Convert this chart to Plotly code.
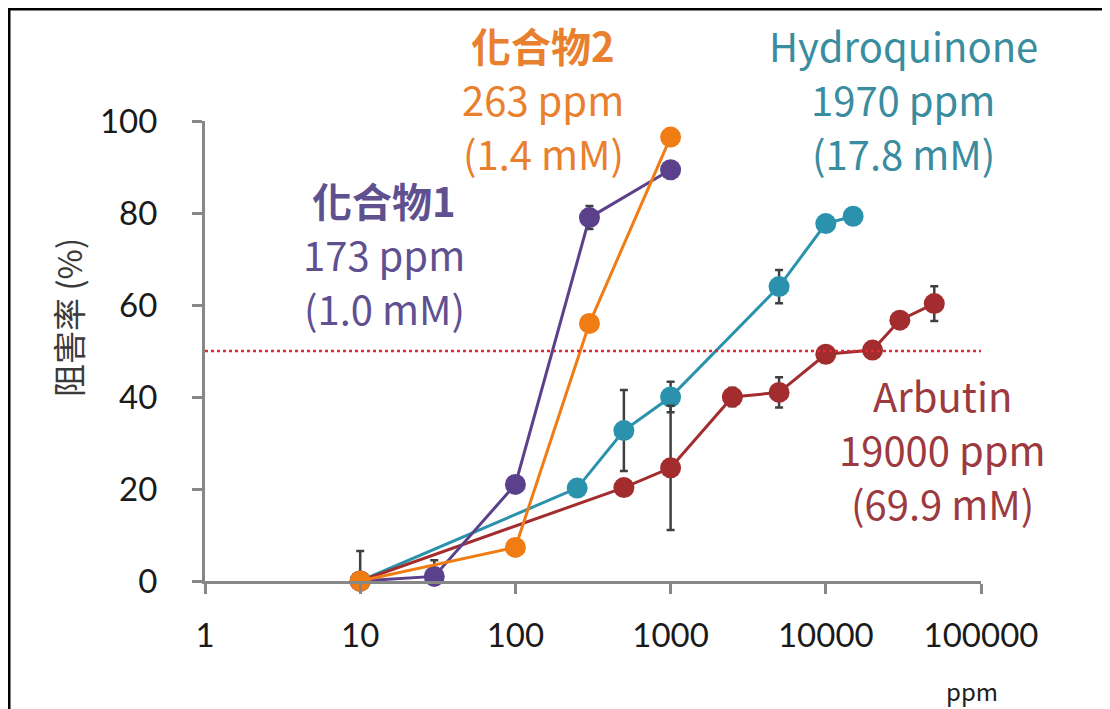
import plotly.graph_objects as go

# ---------------- data ----------------
c1_x = [10, 30, 100, 300, 1000]
c1_y = [0, 1, 21, 79, 89.4]
c1_err = [0, 3.5, 0, 2.5, 1]

c2_x = [10, 100, 300, 1000]
c2_y = [0, 7.3, 56, 96.5]
c2_err = [0, 0, 0, 0]

hq_x = [10, 250, 500, 1000, 5000, 10000, 15000]
hq_y = [0, 20.2, 32.7, 40, 64, 77.7, 79.3]
hq_err = [6.5, 1, 8.8, 3.3, 3.6, 1, 1.5]

ar_x = [10, 500, 1000, 2500, 5000, 10000, 20000, 30000, 50000]
ar_y = [0, 20.3, 24.6, 40, 41, 49.3, 50.2, 56.7, 60.3]
ar_err = [0, 1, 13.5, 2, 3.3, 1, 1, 1, 3.8]

threshold = 50

x_tickvals = [1, 10, 100, 1000, 10000, 100000]
x_ticktext = ["1", "10", "100", "1000", "10000", "100000"]
y_tickvals = [0, 20, 40, 60, 80, 100]

c1_label = ["<b>化合物1</b>", "173 ppm", "(1.0 mM)"]
c2_label = ["<b>化合物2</b>", "263 ppm", "(1.4 mM)"]
hq_label = ["Hydroquinone", "1970 ppm", "(17.8 mM)"]
ar_label = ["Arbutin", "19000 ppm", "(69.9 mM)"]
y_title = "阻害率 (%)"
x_title = "ppm"

# ---------------- layout geometry ----------------
# The page body has an 8px margin, so figure coords = screen coords - 8
OFF = 8
W, H = 1110 - OFF, 709 - OFF
L, R, T, B = 205 - OFF, 981 - OFF, 121 - OFF, 581 - OFF


def px(xs):
    return (xs - OFF - L) / (R - L)


def py(ys):
    return (B - (ys - OFF)) / (B - T)


AXIS = "#878787"
ERR = "#404040"

fig = go.Figure()


def add_series(x, y, err, color):
    fig.add_trace(go.Scatter(
        x=x, y=y, mode="lines+markers",
        line=dict(color=color, width=3),
        marker=dict(color=color, size=21, line=dict(width=0)),
        error_y=dict(type="data", array=err, visible=True,
                     color=ERR, thickness=2.5, width=4),
        showlegend=False, cliponaxis=False,
    ))


add_series(hq_x, hq_y, hq_err, "#2a92ad")
add_series(ar_x, ar_y, ar_err, "#a32d2e")
add_series(c1_x, c1_y, c1_err, "#5b418c")
add_series(c2_x, c2_y, c2_err, "#f07c14")

fig.add_hline(y=threshold, line=dict(color="#e8262f", width=2.5, dash="dot"))

TXT_FONT = "Noto Sans CJK TC"
LINE_GAP = 54


def add_label(lines, cx, cy, color, size=40):
    n = len(lines)
    for i, t in enumerate(lines):
        yy = cy + (i - (n - 1) / 2) * LINE_GAP
        fig.add_annotation(
            text=t, xref="paper", yref="paper", x=px(cx), y=py(yy),
            xanchor="center", yanchor="middle", showarrow=False,
            font=dict(family=TXT_FONT, size=size, color=color),
        )


add_label(c1_label, 384, 254, "#5f5090")
add_label(c2_label, 543, 99, "#e8802e")
add_label(hq_label, 903, 99, "#3a8c9f")
add_label(ar_label, 942, 449, "#9c3a3f")

fig.add_annotation(
    text=y_title, xref="paper", yref="paper", x=px(68), y=py(318),
    xanchor="center", yanchor="middle", showarrow=False, textangle=-90,
    font=dict(family=TXT_FONT, size=33, color="#3a3a3a"),
)
fig.add_annotation(
    text=x_title, xref="paper", yref="paper", x=px(972), y=py(690),
    xanchor="center", yanchor="middle", showarrow=False,
    font=dict(family=TXT_FONT, size=24, color="#202020"),
)

# frame (left and top edges visible)
fig.add_shape(type="rect", xref="paper", yref="paper",
              x0=px(9), x1=px(1130), y0=py(730), y1=py(9),
              line=dict(color="black", width=3), fillcolor="rgba(0,0,0,0)")

fig.update_layout(
    width=W, height=H,
    margin=dict(l=L, r=W - R, t=T, b=H - B, autoexpand=False),
    paper_bgcolor="white", plot_bgcolor="white",
    font=dict(family="Lato", color="#1a1a1a"),
)
fig.update_xaxes(
    type="log", range=[0, 5], tickvals=x_tickvals, ticktext=x_ticktext,
    showgrid=False, zeroline=False, showline=True, linecolor=AXIS, linewidth=3,
    ticks="outside", ticklen=10, tickwidth=3, tickcolor=AXIS,
    tickfont=dict(family="Lato", size=33, color="#1a1a1a"),
    ticklabelstandoff=13, automargin=False,
)
fig.update_yaxes(
    range=[0, 100], tickvals=y_tickvals,
    showgrid=False, zeroline=False, showline=True, linecolor=AXIS, linewidth=3,
    ticks="outside", ticklen=10, tickwidth=3, tickcolor=AXIS,
    tickfont=dict(family="Lato", size=33, color="#1a1a1a"),
    ticklabelstandoff=28, automargin=False,
)

fig.write_html("out.html")
